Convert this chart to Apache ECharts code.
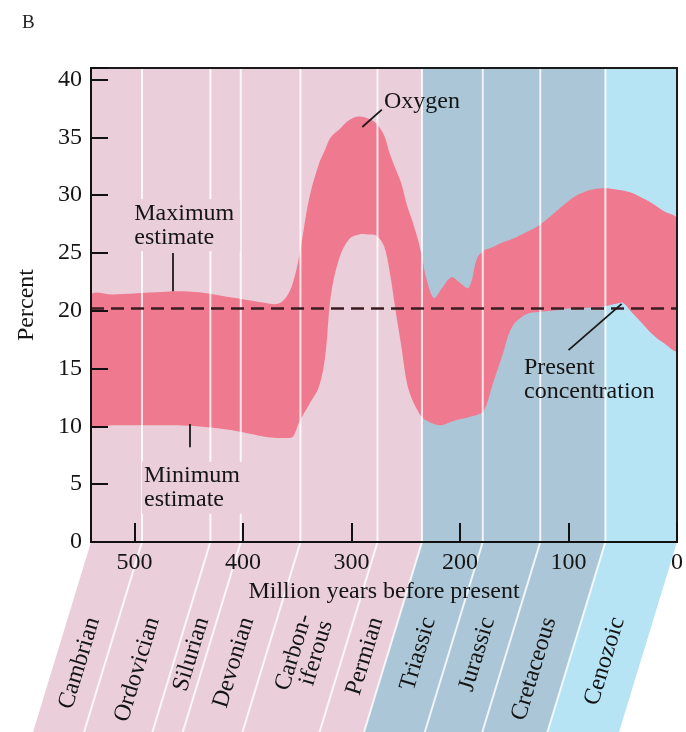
<!DOCTYPE html>
<html><head><meta charset="utf-8">
<script src="https://cdn.jsdelivr.net/npm/echarts@6/dist/echarts.min.js"></script>
<style>html,body{margin:0;padding:0;background:#fff}#c{width:686px;height:732px}</style>
</head><body><div id="c"></div>
<script>
// ---- data ----
const ages = [540,520,500,480,460,440,420,400,380,368,360,354,348,339,330,324,319,311,302,293,284,277,270,265,259,254,249,244,238,235,231,224,217,208,201,192,184,178,170,161,152,139,127,115,100,90,78,66,56,50,42,35,23,12,0];
const maxEstimate = [21.3,21.4,21.5,21.6,21.7,21.6,21.3,21.0,20.7,20.6,21.2,22.4,24.8,29.7,32.7,34.0,35.0,35.7,36.5,36.8,36.6,36.2,35.2,33.7,32.2,31.0,29.2,27.8,25.9,24.6,22.8,21.1,21.9,22.9,22.5,22.0,24.6,25.2,25.5,25.9,26.2,26.8,27.4,28.3,29.5,30.1,30.5,30.6,30.5,30.4,30.2,29.9,29.3,28.6,27.9];
const minEstimate = [10.1,10.1,10.1,10.1,10.1,10.0,9.8,9.5,9.1,9.0,9.0,9.1,10.4,11.9,13.4,16.2,21.3,24.6,26.2,26.6,26.6,26.5,25.6,23.5,19.8,16.9,13.8,12.3,11.2,10.8,10.5,10.2,10.1,10.4,10.6,10.8,11.0,11.3,13.6,16.1,18.6,19.7,19.9,20.0,20.2,20.2,20.3,20.4,20.6,20.7,19.9,19.2,18.0,17.2,16.6];
const presentLevel = 20.2;

const periodNames  = ['Cambrian','Ordovician','Silurian','Devonian','Carbon-\niferous','Permian','Triassic','Jurassic','Cretaceous','Cenozoic'];
const periodBounds = [540,493,430,402,347,276,235,179,126,66,0];
const periodEras   = ['P','P','P','P','P','P','M','M','M','C'];
const eraColors    = {P:'#eacfda', M:'#abc6d7', C:'#b6e4f5'};

const annotTexts = ['Oxygen','Maximum\nestimate','Minimum\nestimate','Present\nconcentration'];
const annotAge   = [270, 502, 493, 141];
const annotPct   = [38.1, 27.4, 4.7, 14.0];
const annotBg    = [null, '#eacfda', '#eacfda', null];
const leaderFrom = [[290,35.9],[465,25.0],[449,10.2],[51,20.6]];
const leaderTo   = [[272,37.4],[465,21.7],[449,8.2],[100,16.6]];

// ---- styles ----
const FONT = '"Liberation Serif","Times New Roman",serif';
const SKEW = 0.305;
const TXT = '#151515';
const BAND = '#ef7a8f';

function bgItem(params, api){
  const i = api.value(2);
  const a = api.coord([api.value(0), 0]);
  const b = api.coord([api.value(1), 0]);
  const top = params.coordSys.y;
  const y0 = a[1];
  const h = api.getHeight() - y0;
  const s = h*SKEW;
  const mid = (a[0]+b[0])/2;
  const ty = 76;
  return {type:'group', children:[
    {type:'polygon', shape:{points:[[a[0],top],[b[0],top],[b[0],y0],[b[0]-s,y0+h],[a[0]-s,y0+h],[a[0],y0]]},
      style:{fill: eraColors[periodEras[i]]}},
    {type:'text', x: mid - ty*SKEW, y: y0+ty, rotation: 73*Math.PI/180,
      style:{text: periodNames[i], fontFamily: FONT, fontSize: 24, fill: TXT, align:'right', verticalAlign:'middle', lineHeight: 22}}
  ]};
}
function bandItem(params, api){
  const cs = params.coordSys;
  const pts = [];
  for (let i = 0; i < ages.length; i++) pts.push(api.coord([ages[i], maxEstimate[i]]));
  for (let i = ages.length - 1; i >= 0; i--) pts.push(api.coord([ages[i], minEstimate[i]]));
  return {type:'polygon', shape:{points: pts, smooth: 0.35},
    style:{fill: BAND},
    clipPath:{type:'rect', shape:{x: cs.x, y: cs.y, width: cs.width, height: cs.height}}};
}
function lineItem(params, api){
  const a = api.coord([api.value(0), 0]);
  const top = params.coordSys.y;
  const y0 = a[1];
  const h = api.getHeight() - y0;
  return {type:'polyline', shape:{points:[[a[0],top],[a[0],y0],[a[0]-h*SKEW,y0+h]]},
    style:{stroke:'rgba(255,255,255,0.8)', lineWidth:2, fill:null}};
}
function annItem(params, api){
  const i = params.dataIndex;
  const p = api.coord([api.value(0), api.value(1)]);
  const st = {text: annotTexts[i], fontFamily: FONT, fontSize: 24, fill: TXT, align:'left', verticalAlign:'middle', lineHeight: 24};
  if (annotBg[i]) { st.backgroundColor = annotBg[i]; st.padding = [2,6,2,2]; }
  return {type:'text', x: p[0], y: p[1], style: st};
}

const chart = echarts.init(document.getElementById('c'));
chart.setOption({
  animation:false,
  title:{text:'B', left:17, top:9, textStyle:{fontFamily:FONT, fontSize:19, fontWeight:'normal', color:'#222'}},
  grid:{left:91, right:7, top:68, bottom:190, show:true, borderColor:'#1a1a1a', borderWidth:2, backgroundColor:'transparent', z:10},
  xAxis:{type:'value', min:0, max:540, interval:100, inverse:true, z:10,
    axisLine:{onZero:false, lineStyle:{color:'#111', width:2}},
    axisTick:{inside:true, length:19, lineStyle:{color:'#111', width:2}},
    axisLabel:{fontFamily:FONT, fontSize:24, color:TXT, margin:9, formatter:v=> v%100===0 ? String(v) : ''},
    splitLine:{show:false},
    name:'Million years before present', nameLocation:'middle', nameGap:32,
    nameTextStyle:{fontFamily:FONT, fontSize:24, color:TXT}},
  yAxis:{type:'value', min:0, max:41, interval:5, z:10,
    axisLine:{show:true, onZero:false, lineStyle:{color:'#111', width:2}},
    axisTick:{show:true, inside:true, length:17, lineStyle:{color:'#111', width:2}},
    axisLabel:{fontFamily:FONT, fontSize:24, color:TXT, margin:9, formatter:v=> v%5===0 ? String(v) : ''},
    splitLine:{show:false},
    name:'Percent', nameLocation:'middle', nameGap:52, nameRotate:90,
    nameTextStyle:{fontFamily:FONT, fontSize:24, color:TXT}},
  series:[
    {type:'custom', name:'periods', z:1, clip:false, silent:true,
      encode:{x:[0,1], y:3},
      data: periodNames.map((n,i)=>[periodBounds[i], periodBounds[i+1], i, 0]),
      renderItem: bgItem},
    {type:'custom', name:'Oxygen', z:2, clip:false, silent:true,
      encode:{x:0, y:1},
      data: [[ages[0], maxEstimate[0]]],
      renderItem: bandItem},
    {type:'custom', name:'boundaries', z:3, clip:false, silent:true,
      encode:{x:0, y:1},
      data: periodBounds.slice(1,-1).map(v=>[v,0]),
      renderItem: lineItem},
    {type:'custom', name:'annotations', z:6, clip:false, silent:true,
      encode:{x:0, y:1},
      data: annotTexts.map((t,i)=>[annotAge[i], annotPct[i]]),
      renderItem: annItem,
      markLine:{silent:true, symbol:'none', label:{show:false},
        data:[
          [{coord:[540, presentLevel], lineStyle:{color:'#3a1c22', width:2.5, type:[13,7]}}, {coord:[0, presentLevel]}],
          ...leaderFrom.map((f,i)=>[{coord:f, lineStyle:{color:'#1a1a1a', width:1.8, type:'solid'}}, {coord:leaderTo[i]}])
        ]}}
  ]
});
</script></body></html>
